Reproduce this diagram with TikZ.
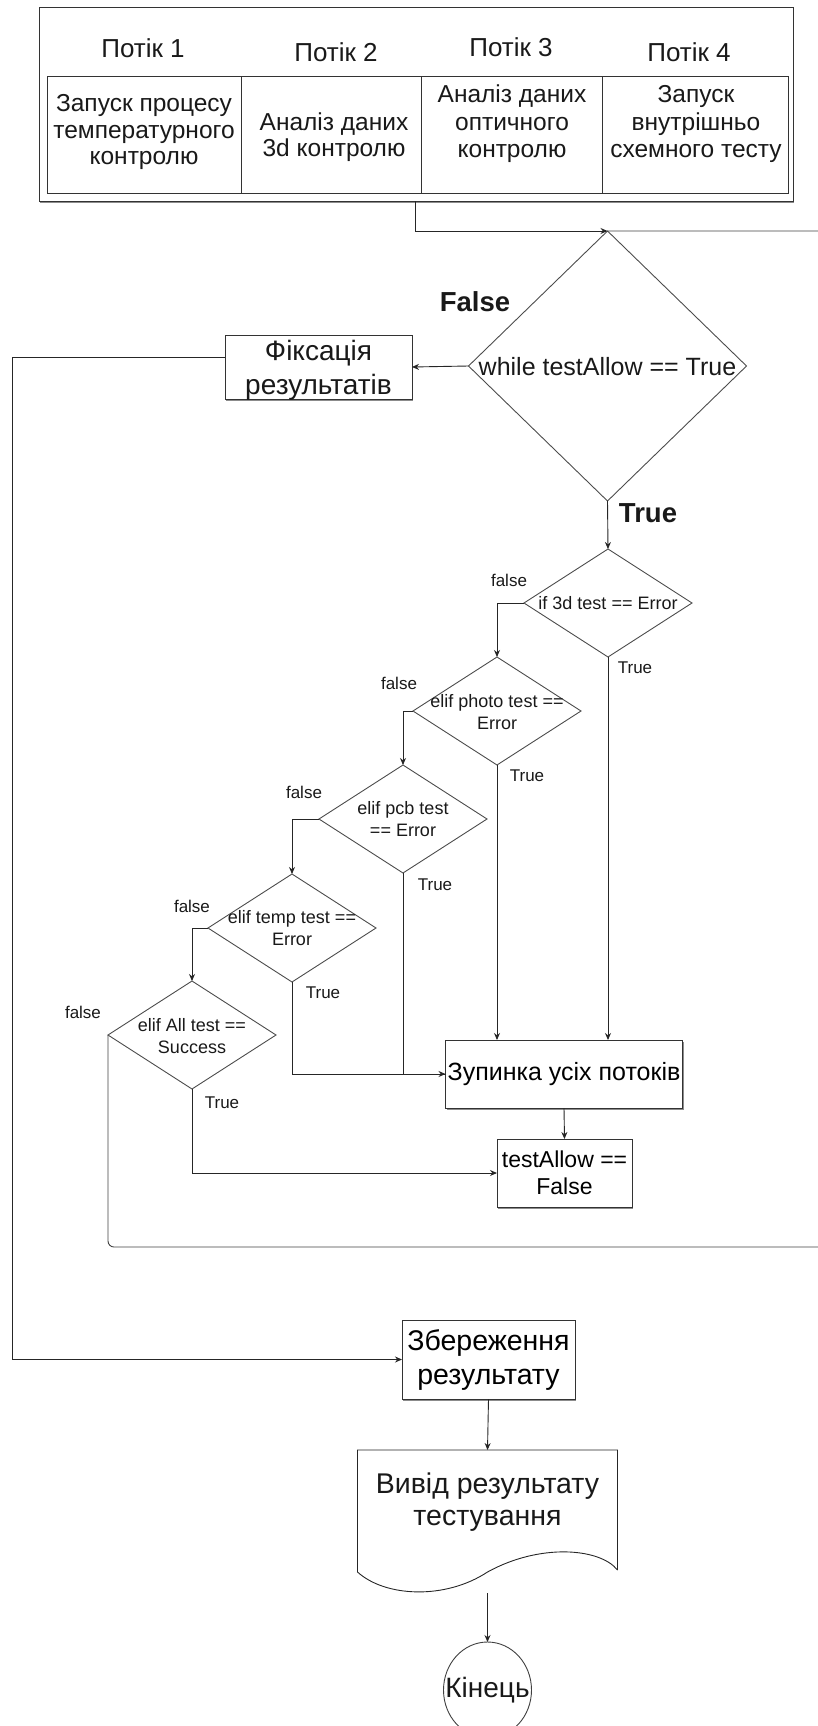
\documentclass[tikz,border=0pt]{standalone}
\usepackage{fontspec}
\setmainfont{Liberation Sans}
\usetikzlibrary{shapes.geometric,arrows.meta,shadows}
\begin{document}
\begin{tikzpicture}[x=1pt,y=-1pt,
  ln/.style={line width=0.9pt, draw=black!85},
  arr/.style={ln, -{Stealth[length=7pt,width=6pt]}},
  shd/.style={drop shadow={shadow xshift=1.2pt, shadow yshift=-1.5pt, fill=black, opacity=0.45}},
  box/.style={draw=black!80, line width=0.9pt, fill=white, inner sep=0pt, outer sep=0pt, align=center},
  cell/.style={draw=black!80, line width=0.9pt, inner sep=0pt, outer sep=0pt, minimum height=117pt},
  dia/.style={diamond, draw=black!70, line width=0.9pt, inner sep=0pt, outer sep=0pt, minimum width=168pt, minimum height=108pt},
  fnt/.style 2 args={font=\fontsize{#1}{#2}\selectfont},
  txt/.style={inner sep=0pt, align=center, text=black!90},
  lbl/.style={txt, fnt={17}{20}},
  blbl/.style={txt, font=\fontsize{27.5}{30}\selectfont\bfseries},
  dtx/.style={txt, fnt={18}{21.5}}
]
\useasboundingbox (0,0) rectangle (817,1726);

% ---------- threads table ----------
\node[box, shd, minimum width=754pt, minimum height=194pt] (outer) at (416,104) {};
\node[txt, fnt={26}{28}] (h1) at (143,48) {Потік 1};
\node[txt, fnt={26}{28}] (h2) at (336,52) {Потік 2};
\node[txt, fnt={26}{28}] (h3) at (511,47) {Потік 3};
\node[txt, fnt={26}{28}] (h4) at (689,52) {Потік 4};
\node[cell, minimum width=194pt] (c1) at (144,134.5) {};
\node[cell, minimum width=180pt] (c2) at (331,134.5) {};
\node[cell, minimum width=181pt] (c3) at (511.5,134.5) {};
\node[cell, minimum width=186pt] (c4) at (695,134.5) {};
\node[txt, fnt={24.5}{26.5}] (t1) at (144,132) {Запуск процесу\\температурного\\контролю};
\node[txt, fnt={24.5}{26}] (t2) at (334,137) {Аналіз даних\\3d контролю};
\node[txt, fnt={24.5}{27.5}] (t3) at (512,124) {Аналіз даних\\оптичного\\контролю};
\node[txt, fnt={24.5}{27.5}] (t4) at (696,124) {Запуск\\внутрішньо\\схемного тесту};
\coordinate (t0) at (415,201);

% ---------- main loop ----------
\node[diamond, draw=black!70, line width=0.9pt, inner sep=0pt, outer sep=0pt, minimum width=278pt, minimum height=270pt] (d0) at (607.5,366) {};
\node[txt, fnt={25}{27}] (d0t) at (607.5,367) {while testAllow == True};
\node[blbl] (lf0) at (475,302) {False};
\node[blbl] (lt0) at (648,513) {True};

\node[box, shd, minimum width=187pt, minimum height=64pt] (fix) at (318.5,367) {};
\node[txt, fnt={28}{34}] (fixt) at (318.5,370) {Фіксація\\результатів};
\coordinate (fx) at (225,357);

% ---------- checks ----------
\node[dia] (d1) at (608,603) {};
\node[dtx] (d1t) at (608,603) {if 3d test == Error};
\node[dia] (d2) at (497,711) {};
\node[dtx] (d2t) at (497,712) {elif photo test ==\\Error};
\node[dia] (d3) at (403,819) {};
\node[dtx] (d3t) at (403,819) {elif pcb test\\== Error};
\node[dia] (d4) at (292,928) {};
\node[dtx] (d4t) at (292,928) {elif temp test ==\\Error};
\node[dia] (d5) at (192,1035) {};
\node[dtx] (d5t) at (192,1036) {elif All test ==\\Success};

\node[lbl] (l1f) at (509,580) {false};
\node[lbl] (l1t) at (635,668) {True};
\node[lbl] (l2f) at (399,683) {false};
\node[lbl] (l2t) at (527,776) {True};
\node[lbl] (l3f) at (304,792) {false};
\node[lbl] (l3t) at (435,885) {True};
\node[lbl] (l4f) at (192,906) {false};
\node[lbl] (l4t) at (323,993) {True};
\node[lbl] (l5f) at (83,1012) {false};
\node[lbl] (l5t) at (222,1103) {True};

\node[box, shd, fnt={25}{28}, minimum width=237pt, minimum height=68pt] (stop) at (564,1074) {Зупинка усіх потоків};
\node[box, shd, fnt={23}{27}, minimum width=135pt, minimum height=68pt] (tf) at (564.5,1173) {testAllow ==\\False};

% ---------- end part ----------
\node[box, shd, fnt={28.5}{34}, minimum width=173pt, minimum height=79pt] (save) at (488.5,1359.5) {Збереження\\результату};
\node[inner sep=0pt, outer sep=0pt, minimum width=260pt, minimum height=120pt] (doc) at (487.5,1510) {};
\draw[ln] (doc.south east) -- (doc.north east) -- (doc.north west) -- ([yshift=-2pt]doc.south west)
  .. controls (385,1597) and (445,1600) .. (487.5,1572)
  .. controls (540,1543) and (600,1548) .. (doc.south east);
\node[txt, fnt={28.5}{32}] (doct) at (487.5,1502) {Вивід результату\\тестування};
\coordinate (docb) at (487.5,1593);
\node[ellipse, draw=black!75, line width=0.9pt, inner sep=0pt, outer sep=0pt, minimum width=88pt, minimum height=96pt] (end) at (487.5,1690) {};
\node[txt, fnt={28}{30}] (endt) at (487.5,1690) {Кінець};

% ---------- connectors ----------
\draw[arr] (t0) |- (d0.north);
\draw[ln, draw=black!75, rounded corners=6pt] (d5.west) |- (845,1247) -- (845,231) -- (d0.north);
\draw[arr] (d0.west) -- (fix.east);
\draw[arr] (fx) -- ++(-213,0) |- (save.west);
\draw[arr] (d0.south) -- (d1.north);
\draw[arr] (d1.west) -| (d2.north);
\draw[arr] (d2.west) -| (d3.north);
\draw[arr] (d3.west) -| (d4.north);
\draw[arr] (d4.west) -| (d5.north);
\draw[arr] (d1.south) -- (d1.south |- stop.north);
\draw[arr] (d2.south) -- (d2.south |- stop.north);
\draw[ln] (d3.south) |- (stop.west);
\draw[arr] (d4.south) |- (stop.west);
\draw[arr] (d5.south) |- (tf.west);
\draw[arr] (stop.south) -- (tf.north);
\draw[arr] (save.south) -- (doc.north);
\draw[arr] (docb) -- (end.north);
\end{tikzpicture}
\end{document}
